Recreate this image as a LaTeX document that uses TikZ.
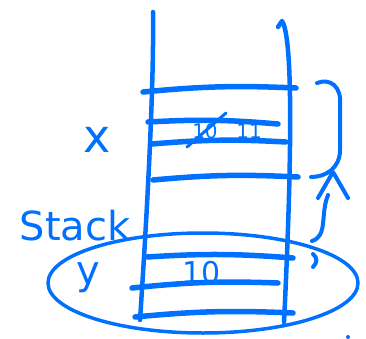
\documentclass[tikz,border=0pt]{standalone}
\usepackage{fontspec}
\setmainfont{DejaVu Sans}
\usepackage{tikz}
\usetikzlibrary{positioning}
\usepackage{xcolor}
\definecolor{penblue}{RGB}{0,112,255}

\begin{document}
\begin{tikzpicture}[x=1pt, y=-1pt,
    rail/.style={draw=penblue, line width=4.5pt, line cap=round, line join=round},
    rung/.style={draw=penblue, line width=5.5pt, line cap=round},
    ink/.style={draw=penblue, line width=4pt, line cap=round, line join=round},
    lab/.style={text=penblue, inner sep=0pt, font=\fontsize{40}{40}\selectfont},
    val/.style={text=penblue, inner sep=0pt, font=\fontsize{30}{30}\selectfont},
    small/.style={text=penblue, inner sep=0pt, font=\fontsize{20}{20}\selectfont}
]
\useasboundingbox (0,0) rectangle (366,339);

% the two rails of the stack
\coordinate (LTop) at (153,12);
\coordinate (LBot) at (140,320);
\coordinate (RHook) at (278,27);
\coordinate (RTop) at (282,21);
\coordinate (RBot) at (284,322);
\draw[rail] (LTop) .. controls (154,80) and (148,200) .. (LBot);
\draw[rail] (RHook) -- (RTop) .. controls (295,40) and (290,200) .. (RBot);

% rungs
\foreach \n/\xa/\ya/\xb/\yb in {a/143/92/296/88, b/148/122/278/124, c/152/144/286/142,
                                d/153/180/298/177, e/147/257/293/258, f/132/288/278/283,
                                g/135/317/293/313} {
    \coordinate (L\n) at (\xa,\ya);
    \coordinate (R\n) at (\xb,\yb);
    \draw[rung] (L\n) to[bend left=4] (R\n);
}

% labels
\node[lab] (stacklab) at (75,226) {Stack};
\node[lab, font=\fontsize{46}{46}\selectfont] (xlab) at (97,140) {x};
\node[lab] (ylab) at (88,278) {y};

% values in the slots
\node[small] (oldval) at (205,131) {10};
\node[small] (newval) at (249,131) {11};
\coordinate (StrikeA) at (187,147);
\coordinate (StrikeB) at (226,113);
\draw[ink, line width=3pt] (StrikeA) -- (StrikeB);
\node[val] (yval) at (202,273) {10};

% oval round the lower slots
\draw[ink, line width=3.5pt] (203,283) ellipse[x radius=155, y radius=50];

% brace and arrow on the right
\coordinate (BrTop) at (317,83);
\coordinate (BrMid) at (311,177);
\coordinate (BrBot) at (312,241);
\coordinate (ArTip) at (333,172);
\draw[ink] (BrTop) .. controls (330,78) and (342,86) .. (340,106) -- (340,150)
    .. controls (340,168) and (326,177) .. (BrMid);
\draw[ink] (318,198) -- (ArTip) -- (348,198);
\draw[ink] (328,195) .. controls (320,215) and (328,236) .. (BrBot);
\draw[ink] (313,254) .. controls (318,258) and (317,263) .. (313,267);
\fill[penblue] (348,337) circle (2pt);
\end{tikzpicture}
\end{document}
